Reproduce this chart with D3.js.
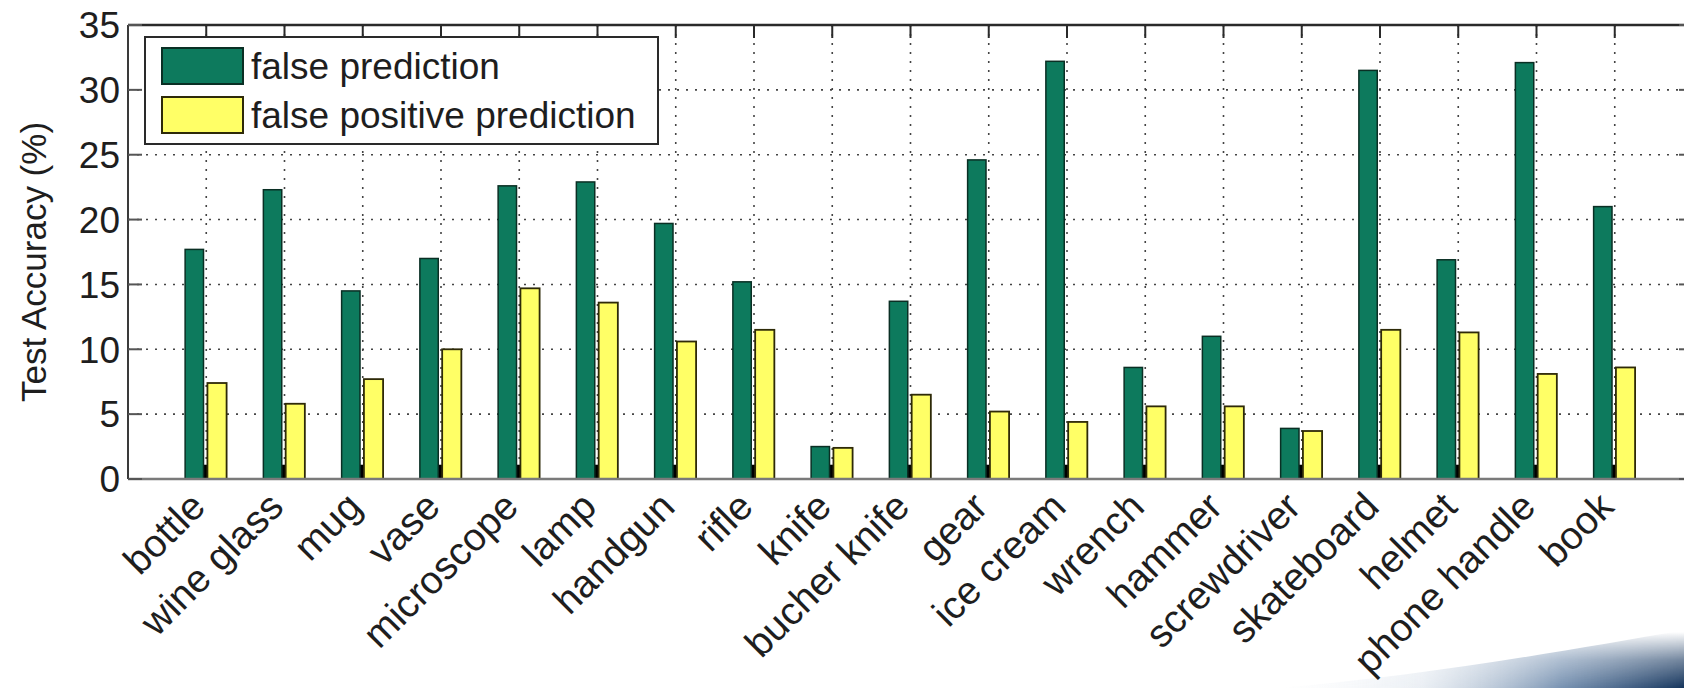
<!DOCTYPE html>
<html>
<head>
<meta charset="utf-8">
<script src="https://cdn.jsdelivr.net/npm/d3@7"></script>
<style>
  html, body { margin: 0; padding: 0; background: #ffffff; }
  svg { display: block; }
  text { font-family: "Liberation Sans", Arial, Helvetica, sans-serif; fill: #1e1e1e; }
</style>
</head>
<body>
<svg id="chart" width="1684" height="688"></svg>
<script>
const categories = ["bottle", "wine glass", "mug", "vase", "microscope", "lamp", "handgun", "rifle", "knife",
  "bucher knife", "gear", "ice cream", "wrench", "hammer", "screwdriver", "skateboard", "helmet",
  "phone handle", "book"];
const falsePrediction = [17.7, 22.3, 14.5, 17.0, 22.6, 22.9, 19.7, 15.2, 2.5, 13.7, 24.6, 32.2, 8.6, 11.0, 3.9, 31.5, 16.9, 32.1, 21.0];
const falsePositivePrediction = [7.4, 5.8, 7.7, 10.0, 14.7, 13.6, 10.6, 11.5, 2.4, 6.5, 5.2, 4.4, 5.6, 5.6, 3.7, 11.5, 11.3, 8.1, 8.6];
const baseStub = [1.1, 1.1, 1.1, 1.1, 1.1, 1.1, 1.1, 1.1, 1.1, 1.1, 1.1, 1.1, 1.1, 1.1, 1.1, 1.1, 1.1, 1.1, 1.1];
const yTicks = [0, 5, 10, 15, 20, 25, 30, 35];
const seriesNames = ["false prediction", "false positive prediction"];
const yLabel = "Test Accuracy (%)";

const GREEN = "#0d7a5d", GREEN_EDGE = "#0a2f24";
const YELLOW = "#ffff66", YELLOW_EDGE = "#2e2a08";

const svg = d3.select("#chart");
const W = 1684, H = 688;

// decorative swoosh in the lower right corner
const defs = svg.append("defs");
const grad = defs.append("linearGradient").attr("id", "corner").attr("x1", "0").attr("y1", "0").attr("x2", "1").attr("y2", "0");
grad.append("stop").attr("offset", "0").attr("stop-color", "#dfe6ef").attr("stop-opacity", 0);
grad.append("stop").attr("offset", "0.35").attr("stop-color", "#c3d0df").attr("stop-opacity", 0.35);
grad.append("stop").attr("offset", "0.7").attr("stop-color", "#5f7ea3").attr("stop-opacity", 0.85);
grad.append("stop").attr("offset", "1").attr("stop-color", "#14345c").attr("stop-opacity", 1);
const gradV = defs.append("linearGradient").attr("id", "cornerV").attr("x1", "0").attr("y1", "0").attr("x2", "0").attr("y2", "1");
gradV.append("stop").attr("offset", "0").attr("stop-color", "#fff").attr("stop-opacity", 0);
gradV.append("stop").attr("offset", "0.5").attr("stop-color", "#fff").attr("stop-opacity", 0.6);
gradV.append("stop").attr("offset", "1").attr("stop-color", "#fff").attr("stop-opacity", 1);
const mask = defs.append("mask").attr("id", "cornerMask");
mask.append("rect").attr("x", 1280).attr("y", 632).attr("width", 404).attr("height", 56).attr("fill", "url(#cornerV)");
svg.append("path")
  .attr("d", "M1280,688 C1420,676 1560,652 1684,630 L1684,688 Z")
  .attr("fill", "url(#corner)").attr("mask", "url(#cornerMask)");

const x = d3.scaleLinear().domain([0, categories.length + 1]).range([128, 1693]);
const y = d3.scaleLinear().domain([0, 35]).range([479, 25]);
const xc = i => x(i + 1);

// grid
const grid = svg.append("g");
grid.selectAll("line.h").data(yTicks.filter(v => v > 0 && v < 35)).join("line")
  .attr("x1", x(0)).attr("x2", x(categories.length + 1))
  .attr("y1", d => y(d)).attr("y2", d => y(d))
  .attr("stroke", "#444").attr("stroke-width", 1.6).attr("stroke-dasharray", "2,7");
grid.selectAll("line.v").data(categories).join("line")
  .attr("x1", (d, i) => xc(i)).attr("x2", (d, i) => xc(i))
  .attr("y1", y(35)).attr("y2", y(0))
  .attr("stroke", "#444").attr("stroke-width", 1.6).attr("stroke-dasharray", "2,7");

// bars
const bars = svg.append("g");
const u = x(1) - x(0);
bars.selectAll("rect.stub").data(baseStub).join("rect")
  .attr("x", (d, i) => xc(i) - 0.045 * u).attr("width", 0.06 * u)
  .attr("y", d => y(d)).attr("height", d => y(0) - y(d)).attr("fill", "#000");
bars.selectAll("rect.g").data(falsePrediction).join("rect")
  .attr("x", (d, i) => xc(i) - 0.27 * u).attr("width", 0.235 * u)
  .attr("y", d => y(d)).attr("height", d => y(0) - y(d))
  .attr("fill", GREEN).attr("stroke", GREEN_EDGE).attr("stroke-width", 1.5);
bars.selectAll("rect.y").data(falsePositivePrediction).join("rect")
  .attr("x", (d, i) => xc(i) + 0.015 * u).attr("width", 0.245 * u)
  .attr("y", d => y(d)).attr("height", d => y(0) - y(d))
  .attr("fill", YELLOW).attr("stroke", YELLOW_EDGE).attr("stroke-width", 1.8);

// axes frame
const ax = svg.append("g");
ax.append("line").attr("x1", x(0)).attr("x2", W).attr("y1", y(35)).attr("y2", y(35))
  .attr("stroke", "#2a2a2a").attr("stroke-width", 2.5);
ax.append("line").attr("x1", x(0)).attr("x2", W).attr("y1", y(0)).attr("y2", y(0))
  .attr("stroke", "#7a7a7a").attr("stroke-width", 2.5);
ax.append("line").attr("x1", x(0)).attr("x2", x(0)).attr("y1", y(35)).attr("y2", y(0))
  .attr("stroke", "#3a3a3a").attr("stroke-width", 2);
ax.append("line").attr("x1", x(categories.length + 1)).attr("x2", x(categories.length + 1)).attr("y1", y(35)).attr("y2", y(0))
  .attr("stroke", "#3a3a3a").attr("stroke-width", 2);

// x ticks on top
ax.selectAll("line.xt").data(categories).join("line")
  .attr("x1", (d, i) => xc(i)).attr("x2", (d, i) => xc(i))
  .attr("y1", y(35)).attr("y2", y(35) + 13)
  .attr("stroke", "#2a2a2a").attr("stroke-width", 2);
// y ticks left and right
ax.selectAll("line.yl").data(yTicks).join("line")
  .attr("x1", x(0)).attr("x2", x(0) + 14).attr("y1", d => y(d)).attr("y2", d => y(d))
  .attr("stroke", "#555").attr("stroke-width", 2);
ax.selectAll("line.yr").data(yTicks).join("line")
  .attr("x1", x(categories.length + 1) - 14).attr("x2", x(categories.length + 1)).attr("y1", d => y(d)).attr("y2", d => y(d))
  .attr("stroke", "#555").attr("stroke-width", 2);

// y tick labels
ax.selectAll("text.yl").data(yTicks).join("text")
  .attr("x", x(0) - 8).attr("y", d => y(d)).attr("dy", "0.36em")
  .attr("text-anchor", "end").attr("font-size", 37).text(d => d);

// x labels
ax.selectAll("text.xl").data(categories).join("text")
  .attr("transform", (d, i) => `translate(${xc(i) + 1},${y(0) + 30}) rotate(-45)`)
  .attr("text-anchor", "end").attr("font-size", 39).text(d => d);

// y axis label
svg.append("text")
  .attr("transform", `translate(46,${(y(0) + y(35)) / 2 + 10}) rotate(-90)`)
  .attr("text-anchor", "middle").attr("font-size", 35).text(yLabel);

// legend
const lg = svg.append("g");
lg.append("rect").attr("x", 145).attr("y", 37).attr("width", 513).attr("height", 107)
  .attr("fill", "#fff").attr("stroke", "#2a2a2a").attr("stroke-width", 2);
const swatches = [[GREEN, GREEN_EDGE], [YELLOW, YELLOW_EDGE]];
seriesNames.forEach((name, k) => {
  lg.append("rect").attr("x", 162).attr("y", 48 + k * 49).attr("width", 81).attr("height", 36)
    .attr("fill", swatches[k][0]).attr("stroke", swatches[k][1]).attr("stroke-width", 2);
  lg.append("text").attr("x", 251).attr("y", 66 + k * 49).attr("dy", "0.36em")
    .attr("font-size", 37).text(name);
});
</script>
</body>
</html>
